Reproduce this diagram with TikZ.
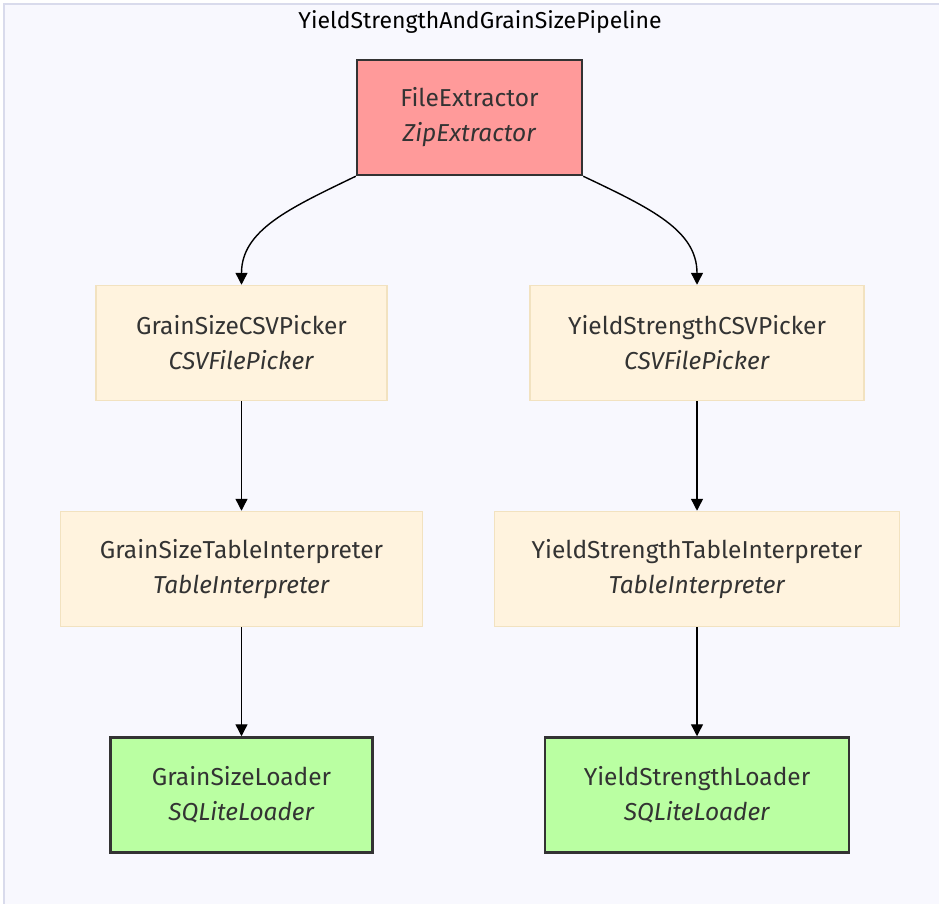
\documentclass[tikz,border=0pt]{standalone}
\usepackage{fontspec}
\setmainfont{Fira Sans}
\usetikzlibrary{positioning,arrows.meta}

\definecolor{bgfill}{HTML}{F8F8FE}
\definecolor{bgline}{HTML}{D9DBEC}
\definecolor{pinkfill}{HTML}{FF9A9A}
\definecolor{creamfill}{HTML}{FFF3DE}
\definecolor{creamline}{HTML}{F2E2C0}
\definecolor{greenfill}{HTML}{BAFFA2}
\definecolor{darkline}{HTML}{333333}

\begin{document}
\begin{tikzpicture}[x=1pt,y=-1pt]
		% styles
		\tikzset{
			stage/.style={rectangle, minimum height=115pt, align=center, inner sep=2pt, text=darkline, font=\fontsize{24.5}{35}\selectfont},
			extract/.style={stage, draw=darkline, fill=pinkfill, line width=2.5pt},
			pick/.style={stage, draw=creamline, fill=creamfill, line width=1.5pt},
			load/.style={stage, draw=darkline, fill=greenfill, line width=2.5pt},
			>={Triangle[length=12pt, width=12pt]},
			flow/.style={->, line width=1.4pt, draw=black}
		}

		% frame
		\clip (0,0) rectangle (939,904);
		\draw[bgline, fill=bgfill, line width=1.5pt] (4,4) rectangle (960,930);

		% nodes
		\node[text=black, font=\fontsize{23}{25}\selectfont] (title) at (480,22) {YieldStrengthAndGrainSizePipeline};
		\node[extract, minimum width=225pt] (zip) at (469.5,117.5) {FileExtractor\\\textit{ZipExtractor}};

		\node[pick, minimum width=291pt] (gpick) at (241.5,343) {GrainSizeCSVPicker\\\textit{CSVFilePicker}};
		\node[pick, minimum width=334pt] (ypick) at (697,343) {YieldStrengthCSVPicker\\\textit{CSVFilePicker}};

		\node[pick, minimum width=362pt, below=109.5pt of gpick] (gtable) {GrainSizeTableInterpreter\\\textit{TableInterpreter}};
		\node[pick, minimum width=405pt, below=109.5pt of ypick] (ytable) {YieldStrengthTableInterpreter\\\textit{TableInterpreter}};

		\node[load, minimum width=262pt, below=109pt of gtable] (gload) {GrainSizeLoader\\\textit{SQLiteLoader}};
		\node[load, minimum width=304pt, below=109pt of ytable] (yload) {YieldStrengthLoader\\\textit{SQLiteLoader}};

		% connections
		\draw[flow] (zip.south west) .. controls (290,208) and (241.5,230) .. (gpick.north);
		\draw[flow] (zip.south east) .. controls (650,208) and (697,230) .. (ypick.north);

		\draw[flow] (gpick) -- (gtable);
		\draw[flow] (ypick) -- (ytable);
		\draw[flow] (gtable) -- (gload);
		\draw[flow] (ytable) -- (yload);

\end{tikzpicture}
\end{document}
